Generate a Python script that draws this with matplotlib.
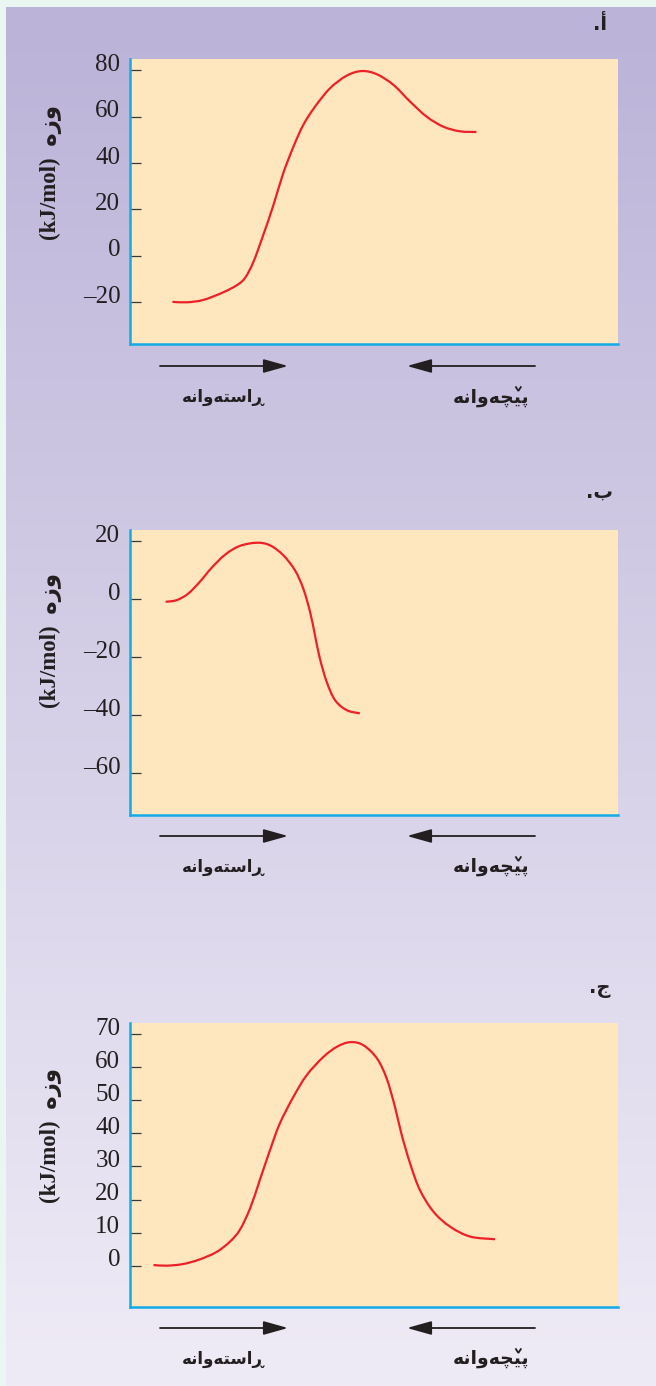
import numpy as np
import matplotlib
matplotlib.use("Agg")
import matplotlib.pyplot as plt
from matplotlib.patches import FancyArrowPatch, PathPatch
from matplotlib.path import Path
from matplotlib.lines import Line2D
from matplotlib.transforms import ScaledTranslation
from matplotlib.colors import to_rgb

# ---- data: reaction coordinate (0-100) vs energy (kJ/mol) ----
a_x = [8.7, 11.6, 15.0, 19.1, 21.9, 23.6, 25.3, 27.3, 29.4, 31.4, 33.5, 35.5,
       37.9, 41.0, 44.4, 47.5, 50.6, 54.0, 57.4, 60.8, 64.2, 67.6, 71.0]
a_y = [-19.9, -20.1, -19.1, -15.8, -12.7, -9.5, -2.6, 8.9, 21.9, 35.6, 47.1, 56.4,
       64.3, 72.3, 77.7, 79.7, 78.3, 73.7, 66.5, 60.0, 55.7, 53.7, 53.4]

b_x = [7.3, 9.6, 11.9, 14.3, 16.7, 19.5, 22.5, 26.0, 28.7, 31.4, 33.8, 35.5,
       36.9, 37.9, 38.9, 40.3, 42.0, 44.4, 47.1]
b_y = [-0.9, -0.3, 1.9, 6.0, 10.8, 15.4, 18.4, 19.5, 18.6, 15.2, 10.0, 3.7,
       -4.4, -12.4, -20.4, -28.5, -34.8, -38.3, -39.4]

c_x = [4.8, 7.5, 10.9, 14.3, 17.8, 20.5, 22.5, 24.6, 26.6, 28.7, 30.7, 33.5,
       36.2, 39.6, 42.4, 45.1, 47.8, 50.6, 52.6, 54.3, 55.6, 57.4, 59.4, 62.2,
       65.6, 69.7, 74.8]
c_y = [0.2, 0.0, 0.5, 1.9, 4.2, 7.3, 10.8, 17.3, 25.9, 35.0, 43.0, 51.1,
       57.6, 63.1, 66.2, 67.6, 66.7, 62.7, 56.6, 48.0, 40.0, 30.9, 22.9, 16.3,
       11.8, 8.8, 8.0]

a_ticks = [-20, 0, 20, 40, 60, 80]
b_ticks = [-60, -40, -20, 0, 20]
c_ticks = [0, 10, 20, 30, 40, 50, 60, 70]

a_ticklabels = ["\u201320", "0", "20", "40", "60", "80"]
b_ticklabels = ["\u201360", "\u201340", "\u201320", "0", "20"]
c_ticklabels = ["0", "10", "20", "30", "40", "50", "60", "70"]

# Kurdish labels, pre-shaped (presentation forms, visual order)
panel_letters = [".\u0623", ".\u0628", ".\u062C"]
y_label = "(kJ/mol)  \uFEE9\u0632\u0648"                              # energy (kJ/mol)
forward_label = "\uFEEA\uFEE7\u0627\u0648\uFEEA\uFE98\uFEB3\u0627\u0695"   # forward
reverse_label = "\uFEEA\uFEE7\u0627\u0648\uFEEA\uFB7D\uFEF4\uFB58"         # reverse (v sign added over the yeh)

# ---- figure ----
W, H = 656, 1386
DPI = 100
fig = plt.figure(figsize=(W / DPI, H / DPI), dpi=DPI, facecolor="#EAF6F2")

# lavender gradient panel (darker at the top)
bg = fig.add_axes([6 / W, 0, 1 - 6 / W, 1 - 7 / H])
bg.axis("off")
top = np.array(to_rgb("#BBB3D8"))
bot = np.array(to_rgb("#EFEBF6"))
t = np.linspace(0, 1, 512)[:, None, None]
grad = np.repeat(top + (bot - top) * t, 2, axis=1)
bg.imshow(grad, aspect="auto", extent=[0, 1, 0, 1], origin="upper",
          interpolation="bilinear")

AX_FACE = "#FEE7BE"
SPINE = "#12ABE6"
CURVE = "#EE2027"
INK = "#231F20"


def px_rect(left, top_px, right, bottom_px):
    return [left / W, 1 - bottom_px / H, (right - left) / W, (bottom_px - top_px) / H]


def smooth_path(xs, ys):
    """Catmull-Rom curve through the points, as cubic Bezier segments."""
    pts = np.column_stack([xs, ys]).astype(float)
    n = len(pts)
    verts = [pts[0]]
    codes = [Path.MOVETO]
    for i in range(n - 1):
        p0 = pts[i - 1] if i > 0 else pts[i]
        p1, p2 = pts[i], pts[i + 1]
        p3 = pts[i + 2] if i + 2 < n else pts[i + 1]
        verts += [p1 + (p2 - p0) / 6, p2 - (p3 - p1) / 6, p2]
        codes += [Path.CURVE4] * 3
    return Path(verts, codes)


panels = [
    dict(rect=px_rect(130, 59, 618, 344), x=a_x, y=a_y, ylim=(-38.1, 84.9),
         ticks=a_ticks, labels=a_ticklabels, letter_xy=(600, 24), ylab_y=172,
         arrow_y=366),
    dict(rect=px_rect(130, 530, 618, 815), x=b_x, y=b_y, ylim=(-74.5, 23.9),
         ticks=b_ticks, labels=b_ticklabels, letter_xy=(599, 492), ylab_y=640,
         arrow_y=836),
    dict(rect=px_rect(130, 1023, 618, 1307), x=c_x, y=c_y, ylim=(-12.5, 73.4),
         ticks=c_ticks, labels=c_ticklabels, letter_xy=(600, 989), ylab_y=1135,
         arrow_y=1328),
]

label_shift = ScaledTranslation(0, 8 / DPI, fig.dpi_scale_trans)
reverse_texts = []

for i, p in enumerate(panels):
    ax = fig.add_axes(p["rect"])
    ax.set_facecolor(AX_FACE)
    ax.add_patch(PathPatch(smooth_path(p["x"], p["y"]), fill=False,
                           edgecolor=CURVE, lw=1.6, capstyle="butt"))
    ax.set_xlim(0, 100)
    ax.set_ylim(*p["ylim"])
    for s in ("top", "right"):
        ax.spines[s].set_visible(False)
    for s in ("left", "bottom"):
        ax.spines[s].set_color(SPINE)
        ax.spines[s].set_linewidth(1.8)
    ax.tick_params(axis="x", bottom=False, labelbottom=False)
    ax.tick_params(axis="y", direction="in", length=8, width=0.9, color="#3A3A3A",
                   pad=7, labelsize=18, labelcolor=INK)
    ax.set_yticks(p["ticks"])
    ax.set_yticklabels(p["labels"], fontfamily="Liberation Serif")
    for lbl in ax.get_yticklabels():
        lbl.set_transform(lbl.get_transform() + label_shift)

    # y axis title
    fig.text(51 / W, 1 - p["ylab_y"] / H, y_label, rotation=90, ha="center",
             va="center", fontsize=16.5, fontweight="bold", color=INK,
             family=["Liberation Serif", "DejaVu Sans"])

    # panel letter
    lx, ly = p["letter_xy"]
    fig.text(lx / W, 1 - ly / H, panel_letters[i], ha="center", va="center",
             fontsize=14, fontweight="bold", color=INK, family="DejaVu Sans")

    # direction arrows
    ay = 1 - p["arrow_y"] / H
    for x0, x1 in ((160, 288), (535, 407)):
        arr = FancyArrowPatch((x0 / W, ay), (x1 / W, ay), transform=fig.transFigure,
                              arrowstyle="-|>,head_length=15,head_width=4.2",
                              mutation_scale=1, lw=1.3, color=INK,
                              shrinkA=0, shrinkB=0)
        fig.add_artist(arr)

    ty = 1 - (p["arrow_y"] + 31) / H
    fig.text(223 / W, ty, forward_label, ha="center", va="center", fontsize=12,
             fontweight="bold", color=INK, family="DejaVu Sans")
    rev = fig.text(491 / W, ty, reverse_label, ha="center", va="center",
                   fontsize=13.5, fontweight="bold", color=INK, family="DejaVu Sans")
    reverse_texts.append(rev)

# small "v" sign over the yeh of the reverse label
fig.canvas.draw()
renderer = fig.canvas.get_renderer()
to_fig = fig.transFigure.inverted()
for rev in reverse_texts:
    prop = rev.get_fontproperties()
    s = rev.get_text()
    bb = rev.get_window_extent(renderer)
    w_all, h_all, d_all = renderer.get_text_width_height_descent(s, prop, ismath=False)
    w_left, _, _ = renderer.get_text_width_height_descent(s[:-2], prop, ismath=False)
    w_yeh, _, _ = renderer.get_text_width_height_descent(s[-2], prop, ismath=False)
    em = prop.get_size_in_points() * DPI / 72
    xc = bb.x0 + (bb.width - w_all) / 2 + w_left + w_yeh / 2
    base = bb.y0 + d_all
    pts = np.array([[xc - 0.13 * em, base + 0.80 * em],
                    [xc, base + 0.60 * em],
                    [xc + 0.13 * em, base + 0.80 * em]])
    fpts = to_fig.transform(pts)
    fig.add_artist(Line2D(fpts[:, 0], fpts[:, 1], transform=fig.transFigure,
                          color=INK, lw=1.3, solid_joinstyle="miter"))

fig.savefig("out.png", dpi=DPI, facecolor=fig.get_facecolor())
